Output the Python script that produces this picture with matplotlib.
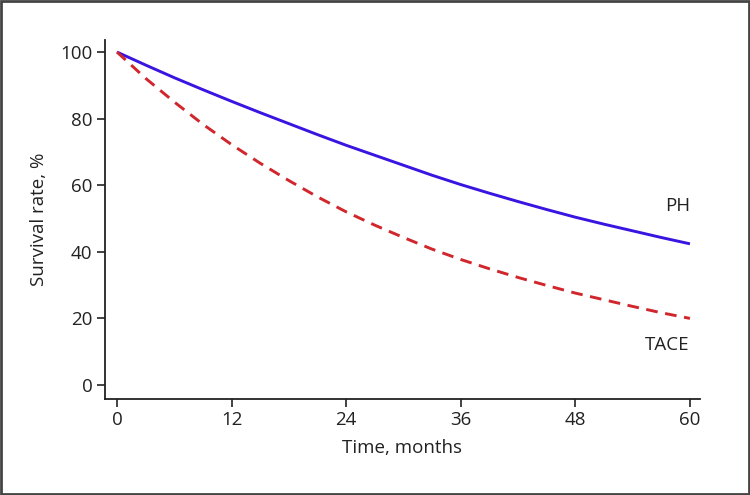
import matplotlib

matplotlib.use("Agg")
import matplotlib.pyplot as plt
from matplotlib.patches import Rectangle

# survival curves, every 3 months
months = [0, 3, 6, 9, 12, 15, 18, 21, 24, 27, 30, 33, 36, 39, 42, 45, 48, 51, 54, 57, 60]
ph = [100, 96.1, 92.3, 88.7, 85.2, 81.8, 78.5, 75.2, 72.0, 69.0, 66.0,
      63.0, 60.2, 57.6, 55.1, 52.7, 50.4, 48.3, 46.3, 44.3, 42.4]
tace = [100, 92.1, 85.0, 78.3, 72.2, 66.6, 61.4, 56.5, 52.0, 48.0, 44.3,
        40.8, 37.7, 34.9, 32.3, 29.9, 27.6, 25.6, 23.6, 21.7, 20.0]

x_ticks = [0, 12, 24, 36, 48, 60]
y_ticks = [0, 20, 40, 60, 80, 100]

plt.rcParams["font.family"] = ["Open Sans", "DejaVu Sans"]
FS = 13.5

fig = plt.figure(figsize=(7.5, 4.95), dpi=100)
ax = fig.add_axes([0.14, 0.194, 0.7933, 0.725])

ax.plot(months, ph, color="#3a14e0", lw=2.1, solid_capstyle="butt")
ax.plot(months, tace, color="#d0262c", lw=2.1, dashes=(4.0, 2.6))

ax.text(60, 53.7, "PH", ha="right", va="center", fontsize=FS, color="#222222")
ax.text(60, 12, "TACE", ha="right", va="center", fontsize=FS, color="#222222")

ax.set_xlim(-1.26, 61.05)
ax.set_ylim(-4.2, 103.6)
ax.set_xticks(x_ticks)
ax.set_yticks(y_ticks)
ax.tick_params(direction="out", length=6, width=1.2, color="#222222",
               labelsize=FS, labelcolor="#222222", pad=3)
for side in ("top", "right"):
    ax.spines[side].set_visible(False)
for side in ("left", "bottom"):
    ax.spines[side].set_linewidth(1.3)
    ax.spines[side].set_color("#222222")

ax.set_xlabel("Time, months", fontsize=FS, color="#222222", labelpad=7)
ax.set_ylabel("Survival rate, %", fontsize=FS, color="#222222", labelpad=9)

# frame around the whole figure
fig.patches.append(Rectangle((0.0015, 0.002), 0.997, 0.996, transform=fig.transFigure,
                             fill=False, edgecolor="#444444", linewidth=2))

fig.savefig("out.png", dpi=100)
